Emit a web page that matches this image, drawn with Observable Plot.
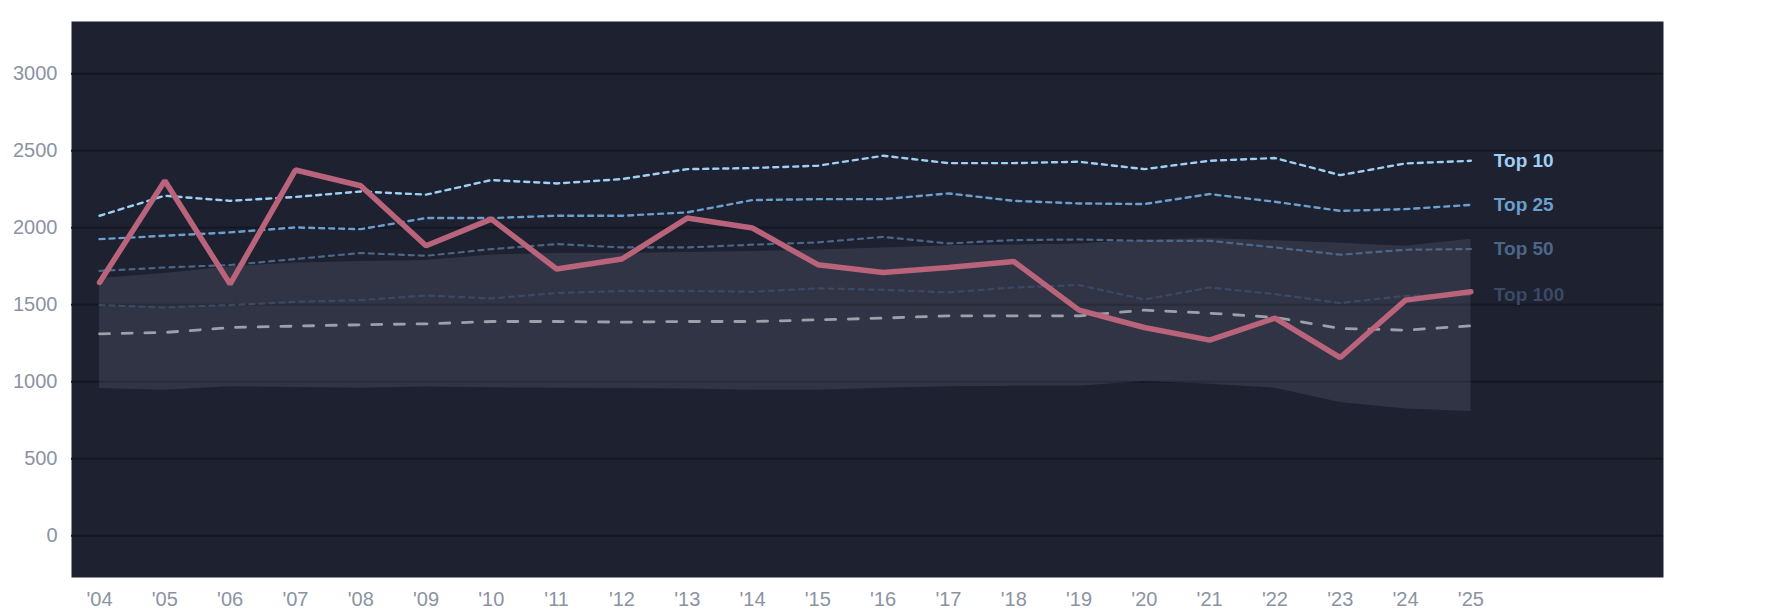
<!DOCTYPE html>
<html><head><meta charset="utf-8">
<script src="https://cdn.jsdelivr.net/npm/d3@7"></script>
<script src="https://cdn.jsdelivr.net/npm/@observablehq/plot@0.6"></script>
<style>body{margin:0;background:#fff}</style>
</head><body><div id="chart"></div>
<script>
const years = [2004, 2005, 2006, 2007, 2008, 2009, 2010, 2011, 2012, 2013, 2014, 2015, 2016, 2017, 2018, 2019, 2020, 2021, 2022, 2023, 2024, 2025];
const player = [1645, 2305, 1634, 2375, 2273, 1883, 2056, 1732, 1797, 2063, 1998, 1760, 1710, 1742, 1781, 1465, 1352, 1270, 1413, 1157, 1530, 1584];
const top10 = [2078, 2208, 2175, 2200, 2236, 2215, 2310, 2288, 2316, 2381, 2388, 2403, 2468, 2420, 2420, 2429, 2381, 2435, 2453, 2342, 2418, 2435];
const top25 = [1926, 1948, 1970, 2002, 1991, 2063, 2063, 2078, 2078, 2100, 2180, 2186, 2186, 2223, 2175, 2158, 2154, 2219, 2169, 2110, 2121, 2149];
const top50 = [1720, 1742, 1758, 1797, 1836, 1818, 1861, 1894, 1872, 1872, 1890, 1905, 1941, 1898, 1920, 1924, 1915, 1915, 1872, 1825, 1857, 1862];
const top100 = [1498, 1482, 1498, 1519, 1530, 1560, 1541, 1576, 1589, 1589, 1584, 1606, 1597, 1580, 1612, 1628, 1534, 1612, 1569, 1511, 1558, 1565];
const median = [1311, 1320, 1352, 1361, 1370, 1376, 1391, 1391, 1387, 1391, 1391, 1402, 1413, 1428, 1428, 1428, 1465, 1445, 1418, 1346, 1335, 1363];
const bandHigh = [1671, 1703, 1747, 1771, 1781, 1788, 1823, 1833, 1833, 1840, 1846, 1855, 1868, 1883, 1888, 1894, 1920, 1930, 1915, 1900, 1880, 1925];
const bandLow = [956, 945, 967, 962, 958, 965, 960, 957, 956, 952, 945, 945, 958, 967, 971, 971, 1001, 984, 958, 865, 822, 806];
const yTicks = [0, 500, 1000, 1500, 2000, 2500, 3000];
const seriesNames = ["Top 10", "Top 25", "Top 50", "Top 100"];
const seriesColors = ["#9fd0f4", "#6c9fcc", "#4d6687", "#3b4964"];

const rows = years.map((year, i) => ({
  year, player: player[i], top10: top10[i], top25: top25[i], top50: top50[i],
  top100: top100[i], median: median[i], high: bandHigh[i], low: bandLow[i]
}));
const seriesKeys = ["top10", "top25", "top50", "top100"];
const seriesWidths = [2.4, 2.4, 2.2, 2.2];
const last = rows[rows.length - 1];

const marks = [
  Plot.frame({fill: "#1d2130", stroke: "none"}),
  Plot.gridY(yTicks, {stroke: "#141823", strokeOpacity: 1, strokeWidth: 2}),
  Plot.areaY(rows, {x: "year", y1: "low", y2: "high", fill: "#e0e6ff", fillOpacity: 0.1})
];
for (let k = seriesKeys.length - 1; k >= 0; k--) {
  marks.push(Plot.lineY(rows, {x: "year", y: seriesKeys[k], stroke: seriesColors[k], strokeWidth: seriesWidths[k], strokeDasharray: "5,5"}));
}
marks.push(Plot.lineY(rows, {x: "year", y: "median", stroke: "#9ba1ab", strokeWidth: 2.8, strokeDasharray: "10,12.7"}));
marks.push(Plot.lineY(rows, {x: "year", y: "player", stroke: "#b9647b", strokeWidth: 5.5, strokeLinejoin: "miter"}));
seriesKeys.forEach((key, k) => {
  marks.push(Plot.text([last], {x: "year", y: key, text: () => seriesNames[k], dx: 23, textAnchor: "start", fill: seriesColors[k], fontWeight: "bold", fontSize: 19}));
});
marks.push(Plot.axisY(yTicks, {tickSize: 0, tickPadding: 14, label: null, fontSize: 20, tickFormat: d => String(d)}));
marks.push(Plot.axisX(years, {tickSize: 0, tickPadding: 14, label: null, fontSize: 20, tickFormat: d => "'" + String(d).slice(2)}));

const chart = Plot.plot({
  width: 1785, height: 614,
  marginLeft: 71, marginRight: 122, marginTop: 21, marginBottom: 37,
  x: {domain: [2003.571, 2027.95]},
  y: {domain: [-272, 3340]},
  style: {fontFamily: "'Liberation Sans', Arial, sans-serif", fontSize: "20px", color: "#8b93a3", background: "transparent"},
  marks
});
document.getElementById("chart").appendChild(chart);
</script>
</body></html>
